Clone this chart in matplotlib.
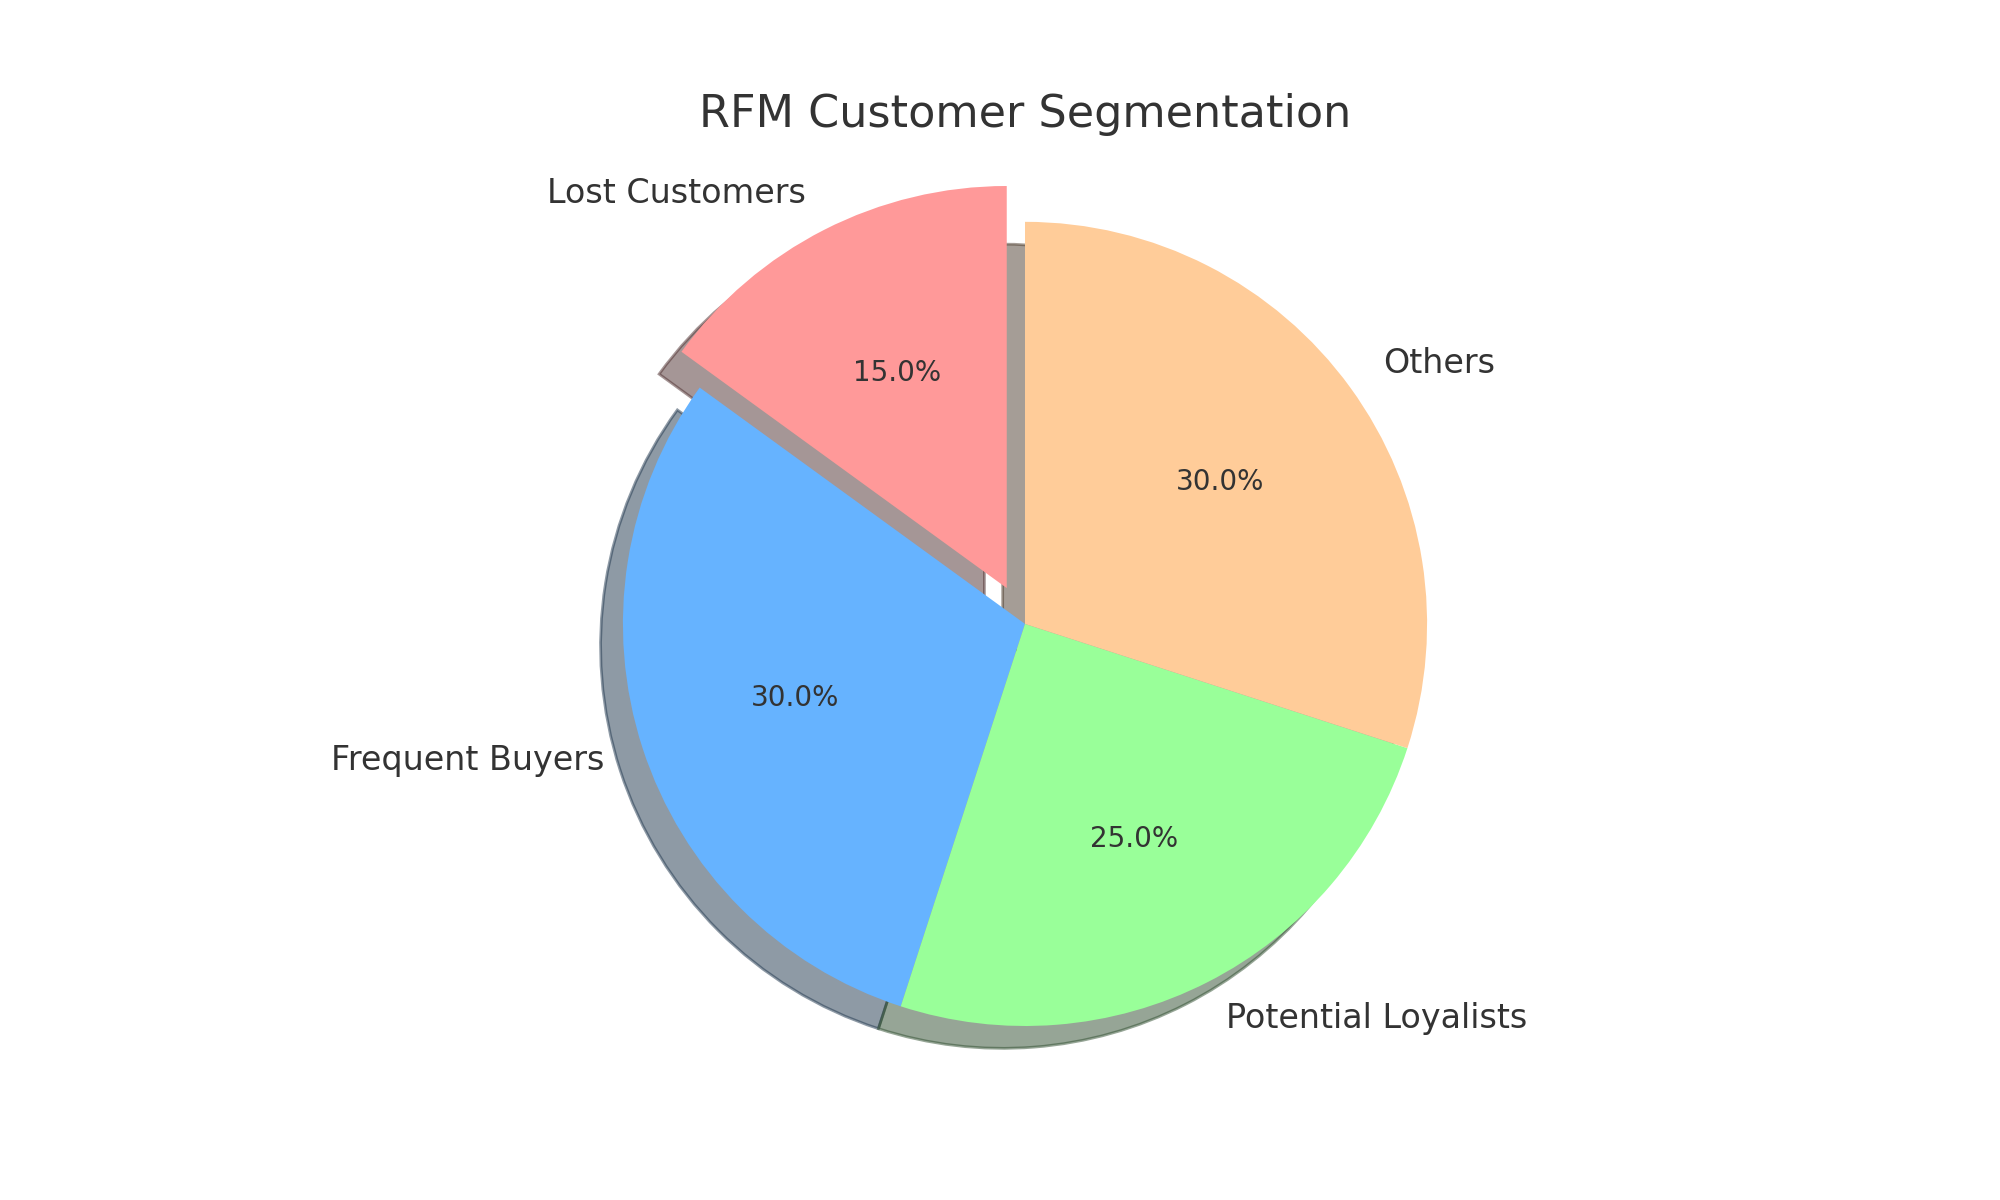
import matplotlib
matplotlib.use("Agg")
import matplotlib.pyplot as plt

labels = ['Lost Customers', 'Frequent Buyers', 'Potential Loyalists', 'Others']
sizes = [15, 30, 25, 30]
colors = ['#ff9999', '#66b3ff', '#99ff99', '#ffcc99']
explode = (0.1, 0, 0, 0)

plt.rcParams['text.color'] = '#333333'
fig, ax = plt.subplots(figsize=(10, 6), dpi=200)
wedges, texts, autotexts = ax.pie(sizes, explode=explode, labels=labels, colors=colors,
                                  autopct='%1.1f%%', shadow=True, startangle=90,
                                  textprops={'fontsize': 12, 'color': '#333333'})
for t in autotexts:
    t.set_fontsize(10)
ax.axis('equal')
ax.set_title('RFM Customer Segmentation', fontsize=16, color='#333333')
plt.savefig('out.png')
